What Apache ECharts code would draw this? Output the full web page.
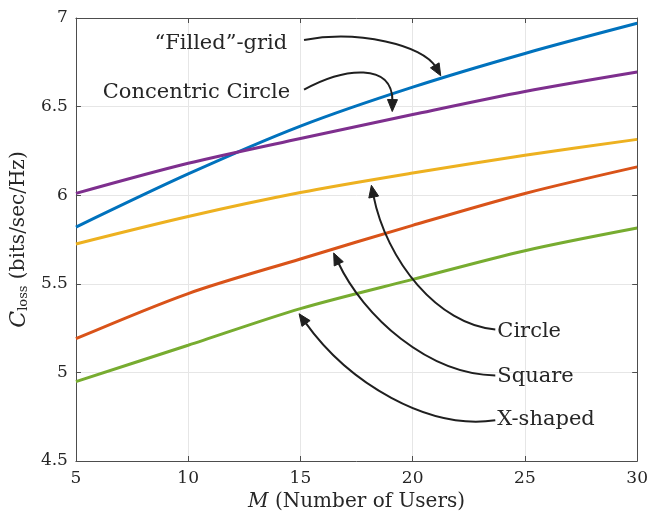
<!DOCTYPE html>
<html><head><meta charset="utf-8">
<script src="https://cdn.jsdelivr.net/npm/echarts@6/dist/echarts.min.js"></script>
<style>html,body{margin:0;padding:0;background:#fff}#c{width:651px;height:517px}</style>
</head><body><div id="c"></div>
<script>
const M = [5, 10, 15, 20, 25, 30];
const filledGrid = [5.82, 6.12, 6.39, 6.61, 6.80, 6.97];
const concentric = [6.01, 6.18, 6.32, 6.455, 6.585, 6.695];
const circle = [5.725, 5.88, 6.015, 6.125, 6.225, 6.315];
const square = [5.19, 5.445, 5.64, 5.83, 6.01, 6.16];
const xShaped = [4.948, 5.153, 5.36, 5.525, 5.687, 5.815];
const yTicks = [4.5, 5, 5.5, 6, 6.5, 7];
const xTicks = [5, 10, 15, 20, 25, 30];

// annotations in data coordinates: label, text anchor, alignment, bezier [start, cp1, cp2, end]
const annotations = [
  {label: '\u201CFilled\u201D-grid', at: [14.41, 6.854], align: 'right', path: [[15.16, 6.876], [17.59, 6.933], [20.46, 6.848], [21.25, 6.674]]},
  {label: 'Concentric Circle', at: [14.54, 6.579], align: 'right', path: [[15.16, 6.596], [16.93, 6.719], [19.13, 6.753], [19.09, 6.472]]},
  {label: 'Circle', at: [23.77, 5.23], align: 'left', path: [[23.68, 5.242], [21.12, 5.27], [18.83, 5.629], [18.16, 6.056]]},
  {label: 'Square', at: [23.77, 4.978], align: 'left', path: [[23.68, 4.983], [20.68, 4.989], [17.81, 5.315], [16.48, 5.674]]},
  {label: 'X-shaped', at: [23.77, 4.736], align: 'left', path: [[23.68, 4.73], [20.68, 4.674], [17.15, 4.938], [14.94, 5.331]]}
];

const FONT = '"DejaVu Serif", "Liberation Serif", serif';
const axisGray = '#4d4d4d';
const gridGray = '#e6e6e6';
const txt = '#262626';

function mk(vals){ return M.map((m,i)=>[m, vals[i]]); }
const chart = echarts.init(document.getElementById('c'), null, {renderer:'canvas'});
const seriesDefs = [
  ['\u201CFilled\u201D-grid', filledGrid, '#0072BD'],
  ['Concentric Circle', concentric, '#7E2F8E'],
  ['Circle', circle, '#EDB120'],
  ['Square', square, '#D95319'],
  ['X-shaped', xShaped, '#77AC30']
];
chart.setOption({
  animation: false,
  grid: {left: 75, right: 10, top: 18, bottom: 54},
  xAxis: [{
    type: 'value', min: xTicks[0], max: xTicks[xTicks.length-1], interval: 5,
    axisLine: {onZero:false, lineStyle: {color: axisGray, width: 1}},
    axisTick: {inside: true, length: 5, lineStyle: {color: axisGray}},
    splitLine: {show: true, lineStyle: {color: gridGray, width: 1}},
    axisLabel: {color: txt, fontFamily: FONT, fontSize: 17, margin: 9},
    name: '{i|M} (Number of Users)', nameLocation: 'middle', nameGap: 31,
    nameTextStyle: {color: txt, fontFamily: FONT, fontSize: 20,
      rich: {i: {fontStyle: 'italic', fontFamily: FONT, fontSize: 20, color: txt}}}
  }, {
    type: 'value', position: 'top', min: xTicks[0], max: xTicks[xTicks.length-1], interval: 5,
    axisLine: {show: true, onZero:false, lineStyle: {color: axisGray, width: 1}},
    axisTick: {show: true, inside: true, length: 5, lineStyle: {color: axisGray}},
    axisLabel: {show: false}, splitLine: {show: false}
  }],
  yAxis: [{
    type: 'value', min: yTicks[0], max: yTicks[yTicks.length-1], interval: 0.5,
    axisLine: {show: true, onZero:false, lineStyle: {color: axisGray, width: 1}},
    axisTick: {show: true, inside: true, length: 5, lineStyle: {color: axisGray}},
    splitLine: {show: true, lineStyle: {color: gridGray, width: 1}},
    axisLabel: {color: txt, fontFamily: FONT, fontSize: 17, margin: 8},
    name: '{i|C}{sub|loss} (bits/sec/Hz)', nameLocation: 'middle', nameGap: 43,
    nameTextStyle: {color: txt, fontFamily: FONT, fontSize: 20,
      rich: {i: {fontStyle: 'italic', fontFamily: FONT, fontSize: 22, color: txt},
             sub: {fontFamily: FONT, fontSize: 13, color: txt, verticalAlign: 'bottom', padding: [8,0,0,0]}}}
  }, {
    type: 'value', position: 'right', min: yTicks[0], max: yTicks[yTicks.length-1], interval: 0.5,
    axisLine: {show: true, onZero:false, lineStyle: {color: axisGray, width: 1}},
    axisTick: {show: true, inside: true, length: 5, lineStyle: {color: axisGray}},
    axisLabel: {show: false}, splitLine: {show: false}
  }],
  series: seriesDefs.map(([name, vals, color]) => ({
    name, type: 'line', data: mk(vals), smooth: 0.3, showSymbol: false, symbol: 'none',
    lineStyle: {color, width: 3}, z: 3
  }))
});

function drawAnnotations(){
  const px = p => chart.convertToPixel({gridIndex: 0}, p);
  const els = [];
  annotations.forEach(a => {
    const [s, c1, c2, e] = a.path.map(px);
    const dx = e[0]-c2[0], dy = e[1]-c2[1];
    const L = Math.hypot(dx, dy) || 1;
    const ux = dx/L, uy = dy/L;
    const headLen = 12, headW = 5;
    const base = [e[0]-ux*headLen, e[1]-uy*headLen];
    els.push({type: 'bezierCurve', shape: {x1: s[0], y1: s[1], x2: base[0]+ux*2, y2: base[1]+uy*2,
      cpx1: c1[0], cpy1: c1[1], cpx2: c2[0], cpy2: c2[1]},
      style: {stroke: '#1f1f1f', lineWidth: 2, fill: null}, z: 10});
    els.push({type: 'polygon', shape: {points: [e, [base[0]-uy*headW, base[1]+ux*headW], [base[0]+uy*headW, base[1]-ux*headW]]},
      style: {fill: '#1f1f1f', stroke: '#1f1f1f', lineWidth: 1}, z: 10});
    const t = px(a.at);
    els.push({type: 'text', x: t[0], y: t[1], z: 10,
      style: {text: a.label, font: '21px ' + FONT, fill: txt, textAlign: a.align, textVerticalAlign: 'middle'}});
  });
  chart.setOption({graphic: els});
}
drawAnnotations();
</script>
</body></html>
